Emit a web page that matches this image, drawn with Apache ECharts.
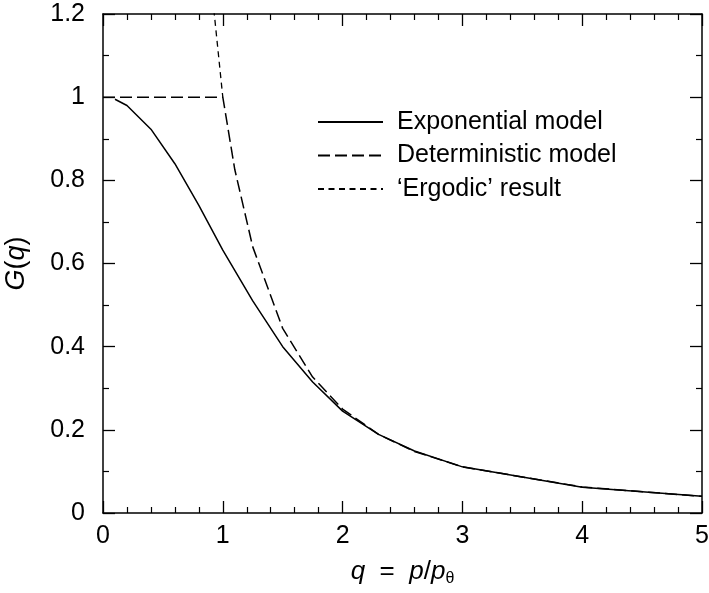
<!DOCTYPE html>
<html>
<head>
<meta charset="utf-8">
<script src="https://cdn.jsdelivr.net/npm/echarts@6/dist/echarts.min.js"></script>
<style>
html,body{margin:0;padding:0;background:#fff;}
#c{width:709px;height:593px;}
</style>
</head>
<body>
<div id="c"></div>
<script>
// Data
var expQ = [0.1, 0.2, 0.4, 0.6, 0.8, 1.0, 1.25, 1.5, 1.75, 2.0, 2.3, 2.6, 3.0, 4.0, 5.0];
var expG = [0.995, 0.98, 0.923, 0.84, 0.74, 0.632, 0.51, 0.40, 0.315, 0.245, 0.189, 0.149, 0.111, 0.062, 0.040];

var detQ = [0.0, 1.0, 1.1, 1.25, 1.5, 1.75, 2.0, 2.3, 2.6, 3.0, 4.0, 5.0];
var detG = [1.0, 1.0, 0.826, 0.64, 0.444, 0.327, 0.25, 0.189, 0.148, 0.111, 0.0625, 0.04];

var ergQ = [0.8, 1.0];
var ergG = [1.5625, 1.0];

var seriesNames = ['Exponential model', 'Deterministic model', '\u2018Ergodic\u2019 result'];
var xTicks = [0, 1, 2, 3, 4, 5];
var yTicks = [0, 0.2, 0.4, 0.6, 0.8, 1, 1.2];

function pairs(xs, ys) { return xs.map(function (x, i) { return [x, ys[i]]; }); }

var FONT = '"Liberation Sans", Arial, sans-serif';
var chart = echarts.init(document.getElementById('c'), null, {renderer: 'canvas'});

function xAxisCfg(pos, showLabels, extra) {
  var a = {
    type: 'value', position: pos, min: 0, max: 5, interval: 1,
    axisLine: {show: true, onZero: false, lineStyle: {color: '#000', width: 1.5}},
    axisTick: {show: true, inside: true, length: 12, lineStyle: {color: '#000', width: 1.3}},
    minorTick: {show: true, splitNumber: 5, length: 6, lineStyle: {color: '#000', width: 1.2}},
    splitLine: {show: false},
    axisLabel: {show: showLabels, color: '#000', fontSize: 25, fontFamily: FONT, margin: 11,
      formatter: function (v) { return String(v); }}
  };
  for (var k in extra) a[k] = extra[k];
  return a;
}
function yAxisCfg(pos, showLabels, extra) {
  var a = {
    type: 'value', position: pos, min: 0, max: 1.2, interval: 0.2,
    axisLine: {show: true, onZero: false, lineStyle: {color: '#000', width: 1.5}},
    axisTick: {show: true, inside: true, length: 12, lineStyle: {color: '#000', width: 1.3}},
    minorTick: {show: true, splitNumber: 2, length: 6, lineStyle: {color: '#000', width: 1.2}},
    splitLine: {show: false},
    axisLabel: {show: showLabels, color: '#000', fontSize: 25, fontFamily: FONT, margin: 18,
      formatter: function (v) { return String(Math.round(v * 10) / 10); }}
  };
  for (var k in extra) a[k] = extra[k];
  return a;
}

var option = {
  backgroundColor: '#fff',
  animation: false,
  grid: {left: 103, right: 7, top: 14, bottom: 80, containLabel: false, outerBoundsMode: 'none'},
  legend: {
    orient: 'vertical', left: 312, top: 104.5, itemWidth: 65, itemHeight: 14, itemGap: 8.5,
    itemStyle: {color: 'rgba(0,0,0,0)', borderWidth: 0, opacity: 0},
    textStyle: {color: '#000', fontSize: 25, lineHeight: 25, fontFamily: FONT, padding: [0, 0, 0, 9]},
    data: seriesNames.map(function (n) { return {name: n}; })
  },
  xAxis: [
    xAxisCfg('bottom', true, {
      name: '{i|q}  =  {i|p}/{i|p}{s|\u03b8}', nameLocation: 'middle', nameGap: 44,
      nameTextStyle: {color: '#000', fontSize: 26, fontFamily: FONT,
        rich: {
          i: {fontStyle: 'italic', fontSize: 26, fontFamily: FONT, color: '#000'},
          s: {fontSize: 16, fontFamily: FONT, color: '#000', verticalAlign: 'bottom', padding: [14, 0, 0, 0]}
        }}
    }),
    xAxisCfg('top', false, {})
  ],
  yAxis: [
    yAxisCfg('left', true, {
      name: '{i|G}({i|q})', nameLocation: 'middle', nameGap: 73, nameRotate: 90,
      nameTextStyle: {color: '#000', fontSize: 27, fontFamily: FONT,
        rich: {i: {fontStyle: 'italic', fontSize: 27, fontFamily: FONT, color: '#000'}}}
    }),
    yAxisCfg('right', false, {})
  ],
  series: [
    {name: seriesNames[0], type: 'line', xAxisIndex: 0, yAxisIndex: 0, symbol: 'none', clip: true,
     data: pairs(expQ, expG), lineStyle: {color: '#000', width: 1.5, type: 'solid'}, itemStyle: {color: '#000'}},
    {name: seriesNames[1], type: 'line', xAxisIndex: 0, yAxisIndex: 0, symbol: 'none', clip: true,
     data: pairs(detQ, detG), lineStyle: {color: '#000', width: 1.5, type: [12, 5]}, itemStyle: {color: '#000'}},
    {name: seriesNames[2], type: 'line', xAxisIndex: 0, yAxisIndex: 0, symbol: 'none', clip: true,
     data: pairs(ergQ, ergG), lineStyle: {color: '#000', width: 1.3, type: [6, 4.5]}, itemStyle: {color: '#000'}}
  ]
};
chart.setOption(option);
</script>
</body>
</html>
